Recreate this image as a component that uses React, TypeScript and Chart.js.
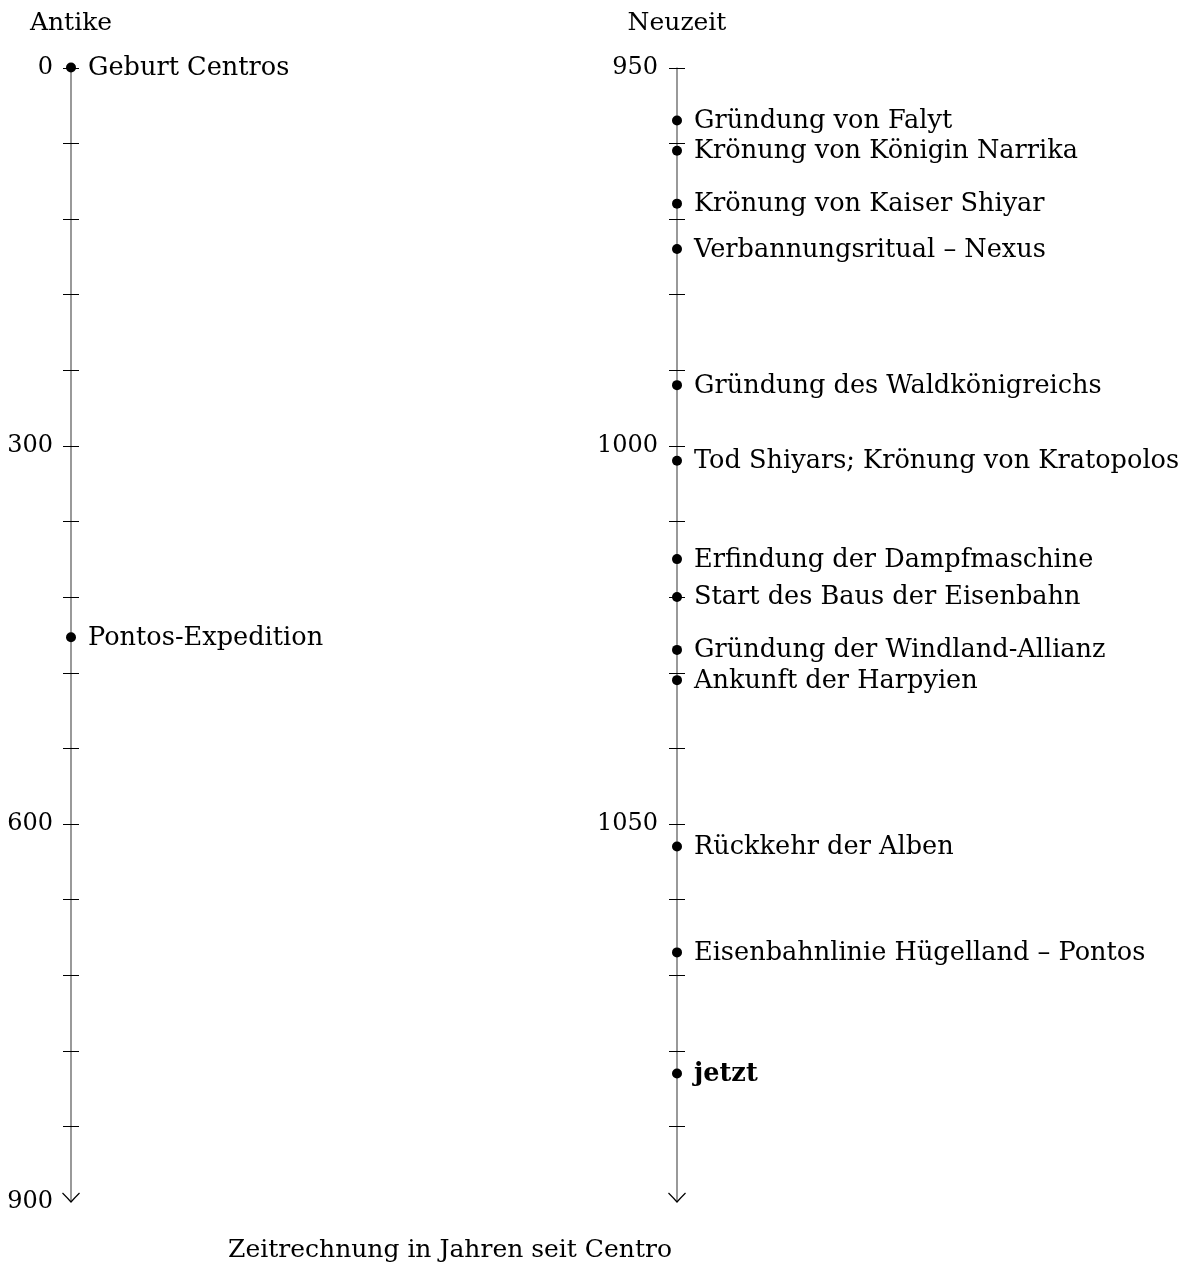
import { useEffect, useRef } from 'react';
import { Chart, registerables } from 'chart.js';

Chart.register(...registerables);

// ---- data ----
const eraTitles = ['Antike', 'Neuzeit'];
const caption = 'Zeitrechnung in Jahren seit Centro';

const ancientRange = [0, 900];
const ancientStep = 60;
const ancientTickLabels = [0, 300, 600, 900];
const ancientYears = [0, 452];
const ancientEvents = ['Geburt Centros', 'Pontos-Expedition'];

const modernRange = [950, 1100];
const modernStep = 10;
const modernTickLabels = [950, 1000, 1050];
const modernYears = [957, 961, 968, 974, 992, 1002, 1015, 1020, 1027, 1031, 1053, 1067, 1083];
const modernEvents = [
  'Gründung von Falyt',
  'Krönung von Königin Narrika',
  'Krönung von Kaiser Shiyar',
  'Verbannungsritual – Nexus',
  'Gründung des Waldkönigreichs',
  'Tod Shiyars; Krönung von Kratopolos',
  'Erfindung der Dampfmaschine',
  'Start des Baus der Eisenbahn',
  'Gründung der Windland-Allianz',
  'Ankunft der Harpyien',
  'Rückkehr der Alben',
  'Eisenbahnlinie Hügelland – Pontos',
  'jetzt',
];
const boldEvents = ['jetzt'];

// ---- styling ----
const FAMILY = "'DejaVu Serif', serif";
const LABEL_SIZE = 25.6;
const TICK_SIZE = 24;
const TITLE_SIZE = 25;
const W = 1192;
const H = 1269;

const timelinePlugin = {
  id: 'timeline',
  beforeDatasetsDraw(chart: any) {
    const { ctx } = chart;
    const xs = chart.scales.x;
    const axes = [
      { scale: chart.scales.yL, xv: 0, range: ancientRange, step: ancientStep },
      { scale: chart.scales.yR, xv: 1, range: modernRange, step: modernStep },
    ];
    ctx.save();
    for (const a of axes) {
      const px = xs.getPixelForValue(a.xv);
      const top = a.scale.getPixelForValue(a.range[0]);
      const bottom = a.scale.getPixelForValue(a.range[1]);
      // axis line
      ctx.strokeStyle = '#808080';
      ctx.lineWidth = 1.6;
      ctx.beginPath();
      ctx.moveTo(px, top);
      ctx.lineTo(px, bottom);
      ctx.stroke();
      // ticks
      ctx.strokeStyle = '#000';
      ctx.lineWidth = 1;
      for (let v = a.range[0]; v < a.range[1]; v += a.step) {
        const y = Math.round(a.scale.getPixelForValue(v)) + 0.5;
        ctx.beginPath();
        ctx.moveTo(px - 8, y);
        ctx.lineTo(px + 8, y);
        ctx.stroke();
      }
      // arrow head
      ctx.lineWidth = 1.2;
      ctx.beginPath();
      ctx.moveTo(px - 8.5, bottom - 9);
      ctx.quadraticCurveTo(px - 3, bottom - 3.5, px, bottom);
      ctx.quadraticCurveTo(px + 3, bottom - 3.5, px + 8.5, bottom - 9);
      ctx.stroke();
    }
    ctx.restore();
  },
  afterDatasetsDraw(chart: any) {
    const { ctx } = chart;
    const xs = chart.scales.x;
    ctx.save();
    ctx.fillStyle = '#000';
    // event labels
    const groups = [ancientEvents, modernEvents];
    groups.forEach((names, di) => {
      const meta = chart.getDatasetMeta(di);
      meta.data.forEach((pt: any, i: number) => {
        const bold = boldEvents.includes(names[i]);
        ctx.font = `${bold ? 'bold ' : ''}${LABEL_SIZE}px ${FAMILY}`;
        ctx.textAlign = 'left';
        ctx.textBaseline = 'alphabetic';
        ctx.fillText(names[i], pt.x + 17, pt.y + 7.5);
      });
    });
    // right axis tick labels
    const yR = chart.scales.yR;
    const pxR = xs.getPixelForValue(1);
    ctx.font = `${TICK_SIZE}px ${FAMILY}`;
    ctx.textAlign = 'right';
    ctx.textBaseline = 'middle';
    modernTickLabels.forEach((v) => {
      ctx.fillText(String(v), pxR - 19, yR.getPixelForValue(v));
    });
    // era titles
    ctx.font = `${TITLE_SIZE}px ${FAMILY}`;
    ctx.textAlign = 'center';
    ctx.textBaseline = 'alphabetic';
    ctx.fillText(eraTitles[0], xs.getPixelForValue(0), 29.5);
    ctx.fillText(eraTitles[1], xs.getPixelForValue(1), 29.5);
    // caption
    ctx.fillText(caption, 450, 1257);
    ctx.restore();
  },
};

export default function App() {
  const ref = useRef<HTMLCanvasElement | null>(null);
  useEffect(() => {
    if (!ref.current) return;
    const pointStyle = {
      pointRadius: 5,
      pointBackgroundColor: '#000',
      pointBorderWidth: 0,
      showLine: false,
      clip: false as any,
    };
    const chart = new Chart(ref.current, {
      type: 'scatter',
      data: {
        datasets: [
          {
            label: eraTitles[0],
            data: ancientYears.map((y) => ({ x: 0, y })),
            xAxisID: 'x',
            yAxisID: 'yL',
            ...pointStyle,
          },
          {
            label: eraTitles[1],
            data: modernYears.map((y) => ({ x: 1, y })),
            xAxisID: 'x',
            yAxisID: 'yR',
            ...pointStyle,
          },
        ],
      },
      options: {
        responsive: false,
        animation: false,
        devicePixelRatio: 1,
        layout: { padding: { top: 67.5, bottom: H - 1202, left: 0, right: W - 677 } },
        plugins: { legend: { display: false }, tooltip: { enabled: false }, title: { display: false } },
        events: [],
        scales: {
          x: { type: 'linear', min: 0, max: 1, display: false },
          yL: {
            type: 'linear',
            position: 'left',
            reverse: true,
            min: ancientRange[0],
            max: ancientRange[1],
            grid: { display: false, drawTicks: false },
            border: { display: false },
            ticks: {
              stepSize: ancientStep,
              autoSkip: false,
              padding: 18,
              color: '#000',
              font: { family: FAMILY, size: TICK_SIZE },
              callback: (v: any) => (ancientTickLabels.includes(Number(v)) ? String(v) : ''),
            },
            afterFit: (s: any) => {
              s.width = 71;
            },
          },
          yR: {
            type: 'linear',
            display: false,
            reverse: true,
            min: modernRange[0],
            max: modernRange[1],
            ticks: { stepSize: modernStep },
          },
        },
      } as any,
      plugins: [timelinePlugin],
    });
    return () => chart.destroy();
  }, []);
  return (
    <div style={{ position: 'absolute', left: 0, top: 0, width: W, height: H, background: '#fff' }}>
      <canvas ref={ref} width={W} height={H} style={{ display: 'block' }} />
    </div>
  );
}
